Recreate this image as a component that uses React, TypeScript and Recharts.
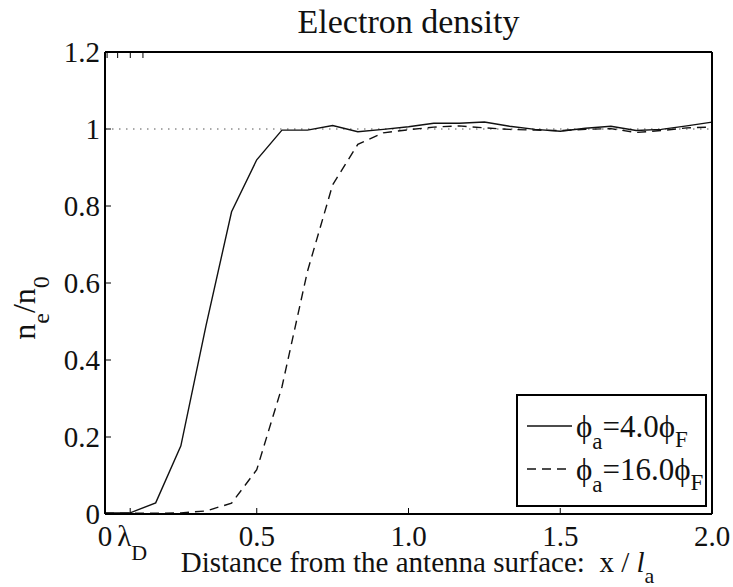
import React from 'react';
import { LineChart, Line, XAxis, YAxis, ReferenceLine, Legend, Label } from 'recharts';

// grid positions along x / l_a
const xPositions = [
  0, 0.083, 0.167, 0.25, 0.333, 0.417, 0.5, 0.583, 0.667, 0.75, 0.833, 0.917,
  1.0, 1.083, 1.167, 1.25, 1.333, 1.417, 1.5, 1.583, 1.667, 1.75, 1.833, 1.917, 2.0,
];

// n_e / n_0, phi_a = 4.0 phi_F
const densityLow = [
  0.003, 0.003, 0.029, 0.177, 0.49, 0.785, 0.92, 0.997, 0.997, 1.009, 0.993, 0.999,
  1.006, 1.015, 1.015, 1.018, 1.007, 0.999, 0.994, 1.002, 1.007, 0.996, 0.999, 1.008, 1.018,
];

// n_e / n_0, phi_a = 16.0 phi_F
const densityHigh = [
  0.002, 0.002, 0.002, 0.003, 0.008, 0.028, 0.115, 0.33, 0.63, 0.855, 0.96, 0.99,
  0.998, 1.005, 1.008, 1.003, 0.999, 0.997, 0.996, 0.999, 1.001, 0.991, 0.996, 1.003, 1.005,
];

const LAMBDA_D = 0.083;
const xTicks = [0, LAMBDA_D, 0.5, 1, 1.5, 2];
const xTickLabels = ['0', 'λD', '0.5', '1.0', '1.5', '2.0'];
const yTicks = [0, 0.2, 0.4, 0.6, 0.8, 1, 1.2];
const yTickLabels = ['0', '0.2', '0.4', '0.6', '0.8', '1', '1.2'];

const series = [
  { key: 'low', main: '=4.0', dash: undefined as string | undefined },
  { key: 'high', main: '=16.0', dash: '9 6' },
];

const data = xPositions.map((x, i) => ({ x, low: densityLow[i], high: densityHigh[i] }));

const FONT = "'Liberation Serif', 'Times New Roman', Times, serif";
const INK = '#111';
const PHI = '\u03d5';
const serif = (size: number): React.CSSProperties => ({ fontFamily: FONT, fontSize: size });

function BottomTick(props: any) {
  const { x, y, payload } = props;
  const idx = xTicks.findIndex((t) => Math.abs(t - payload.value) < 1e-6);
  const isLambda = xTicks[idx] === LAMBDA_D;
  return (
    <g>
      <line x1={x} x2={x} y1={y} y2={y - 6} stroke="#000" strokeWidth={1} />
      {isLambda ? (
        <text x={x + 2} y={y + 32} textAnchor="middle" style={serif(29)} fill={INK}>
          λ<tspan dy={14} style={serif(22)}>D</tspan>
        </text>
      ) : (
        <text x={x} y={y + 32} textAnchor="middle" style={serif(29)} fill={INK}>
          {xTickLabels[idx]}
        </text>
      )}
    </g>
  );
}

function TopTick(props: any) {
  const { x, y } = props;
  return <line x1={x} x2={x} y1={y} y2={y + 6} stroke="#000" strokeWidth={1} />;
}

function LeftTick(props: any) {
  const { x, y, payload } = props;
  const idx = yTicks.findIndex((t) => Math.abs(t - payload.value) < 1e-6);
  return (
    <g>
      <line x1={x} x2={x + 6} y1={y} y2={y} stroke="#000" strokeWidth={1} />
      <text x={x - 5} y={y + 10} textAnchor="end" style={serif(29)} fill={INK}>
        {yTickLabels[idx]}
      </text>
    </g>
  );
}

function RightTick(props: any) {
  const { x, y } = props;
  return <line x1={x} x2={x - 6} y1={y} y2={y} stroke="#000" strokeWidth={1} />;
}

function TitleLabel(props: any) {
  const vb = props.viewBox || { x: 105, width: 607 };
  return (
    <text x={vb.x + vb.width / 2} y={33} textAnchor="middle" style={serif(34)} fill={INK}>
      Electron density
    </text>
  );
}

function XTitle(props: any) {
  const vb = props.viewBox || { x: 105, y: 514, width: 607 };
  return (
    <text x={vb.x + vb.width / 2 + 9} y={vb.y + 58} textAnchor="middle" style={serif(29)} fill={INK}>
      Distance from the antenna surface:{'\u00a0\u00a0'}x /{' '}
      <tspan fontStyle="italic">l</tspan>
      <tspan dy={11} style={serif(22)}>a</tspan>
    </text>
  );
}

function YTitle(props: any) {
  const vb = props.viewBox || { y: 52, height: 462 };
  const cy = vb.y + vb.height / 2 + 25;
  return (
    <text transform="rotate(-90)" x={-cy} y={35} textAnchor="middle" style={serif(32)} fill={INK}>
      n<tspan dy={14} style={serif(24)}>e</tspan>
      <tspan dy={-14}>/n</tspan>
      <tspan dy={14} style={serif(24)}>0</tspan>
    </text>
  );
}

function LegendBox() {
  const w = 191;
  const h = 113;
  return (
    <svg width={w} height={h} style={{ display: 'block' }}>
      <rect x={1} y={1} width={w - 2} height={h - 2} fill="#fff" stroke="#000" strokeWidth={2} />
      {series.map((s, i) => {
        const base = 43 + i * 43;
        return (
          <g key={s.key}>
            <line x1={11} x2={56} y1={base - 11} y2={base - 11} stroke={INK} strokeWidth={1.4} strokeDasharray={s.dash} />
            <text x={60} y={base} style={serif(31)} fill={INK}>
              {PHI}
              <tspan dy={12} style={serif(23)}>a</tspan>
              <tspan dy={-12}>{s.main}{PHI}</tspan>
              <tspan dy={10} style={serif(23)}>F</tspan>
            </text>
          </g>
        );
      })}
    </svg>
  );
}

export default function App() {
  return (
    <div style={{ position: 'absolute', left: 0, top: 0, width: 733, height: 587, background: '#fff' }}>
      <LineChart width={733} height={587} data={data} margin={{ top: 51, right: 20, bottom: 72, left: 0 }}>
        <XAxis
          dataKey="x"
          type="number"
          domain={[0, 2]}
          ticks={xTicks}
          interval={0}
          height={1}
          tickSize={0}
          tickMargin={0}
          tickLine={false}
          tick={<BottomTick />}
          axisLine={{ stroke: '#000', strokeWidth: 2 }}
        >
          <Label content={<XTitle />} />
        </XAxis>
        <XAxis
          xAxisId="top"
          orientation="top"
          type="number"
          domain={[0, 2]}
          ticks={[LAMBDA_D, 0.5, 1, 1.5]}
          interval={0}
          height={1}
          tickSize={0}
          tickMargin={0}
          tickLine={false}
          tick={<TopTick />}
          axisLine={{ stroke: '#000', strokeWidth: 2 }}
        >
          <Label content={<TitleLabel />} />
        </XAxis>
        <YAxis
          type="number"
          domain={[0, 1.2]}
          ticks={yTicks}
          interval={0}
          width={105}
          tickSize={0}
          tickMargin={0}
          tickLine={false}
          tick={<LeftTick />}
          axisLine={{ stroke: '#000', strokeWidth: 2 }}
        >
          <Label content={<YTitle />} />
        </YAxis>
        <YAxis
          yAxisId="right"
          orientation="right"
          type="number"
          domain={[0, 1.2]}
          ticks={[0.2, 0.4, 0.6, 0.8, 1]}
          interval={0}
          width={1}
          tickSize={0}
          tickMargin={0}
          tickLine={false}
          tick={<RightTick />}
          axisLine={{ stroke: '#000', strokeWidth: 2 }}
        />
        <ReferenceLine y={1} stroke="#555" strokeWidth={1} strokeDasharray="1.5 5.5" />
        <Line type="linear" dataKey="low" stroke={INK} strokeWidth={1.4} dot={false} isAnimationActive={false} />
        <Line type="linear" dataKey="high" stroke={INK} strokeWidth={1.4} strokeDasharray="9 6" dot={false} isAnimationActive={false} />
        <Legend
          layout="vertical"
          align="center"
          verticalAlign="middle"
          content={<LegendBox />}
          wrapperStyle={{ left: 516, top: 394, width: 191, height: 113 }}
        />
      </LineChart>
    </div>
  );
}
